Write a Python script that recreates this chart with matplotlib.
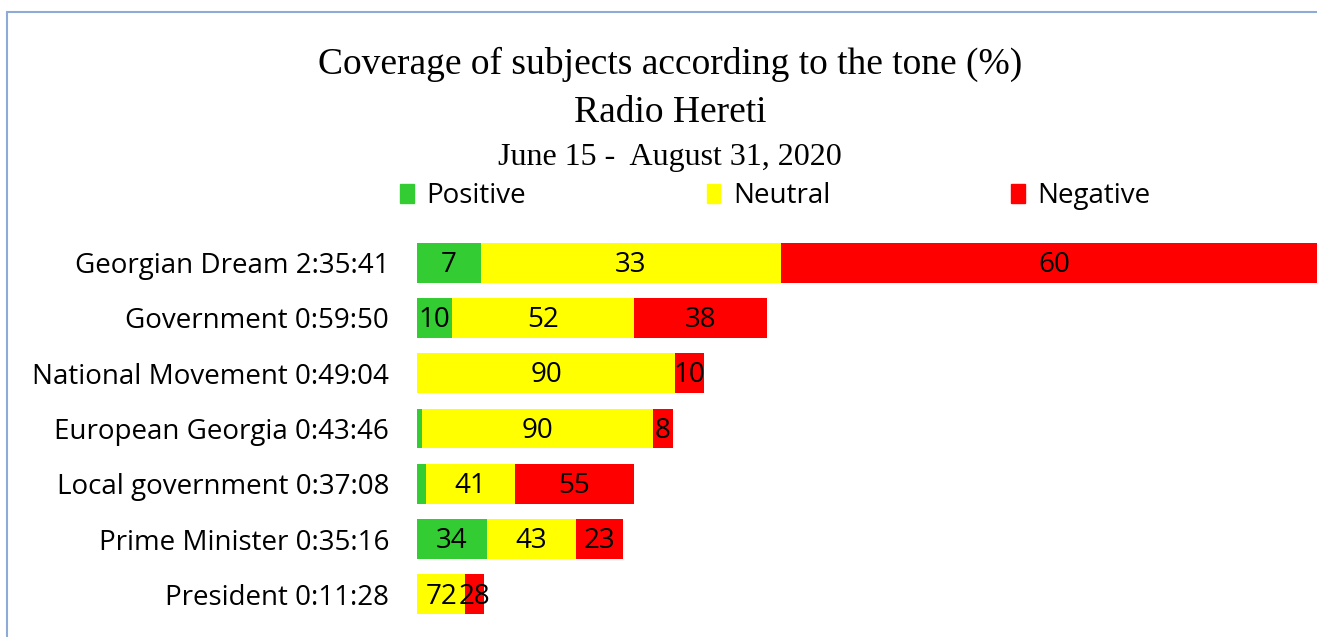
import matplotlib.pyplot as plt
from matplotlib.patches import Patch, Rectangle

subjects = ["Georgian Dream", "Government", "National Movement", "European Georgia",
            "Local government", "Prime Minister", "President"]
durations = ["2:35:41", "0:59:50", "0:49:04", "0:43:46", "0:37:08", "0:35:16", "0:11:28"]
positive = [7, 10, 0, 2, 4, 34, 0]
neutral = [33, 52, 90, 90, 41, 43, 72]
negative = [60, 38, 10, 8, 55, 23, 28]

tones = ["Positive", "Neutral", "Negative"]
colors = ["#33cc33", "#ffff00", "#ff0000"]


def to_sec(s):
    h, m, sec = s.split(":")
    return int(h) * 3600 + int(m) * 60 + int(sec)


secs = [to_sec(d) for d in durations]
labels = [f"{s} {d}" for s, d in zip(subjects, durations)]

fig = plt.figure(figsize=(13.17, 6.37), dpi=100)
ax = fig.add_axes([417 / 1317, 15 / 637, 900 / 1317, 387 / 637])

y = list(range(len(subjects)))
left = [0] * len(subjects)
for vals, col in zip([positive, neutral, negative], colors):
    widths = [v / 100 * t for v, t in zip(vals, secs)]
    ax.barh(y, widths, left=left, height=0.72, color=col)
    for i, (v, w, l) in enumerate(zip(vals, widths, left)):
        if v >= 5:
            ax.text(l + w / 2, i + 0.04, str(v), ha="center", va="center",
                    fontsize=20, family="Open Sans", color="black")
    left = [a + b for a, b in zip(left, widths)]

ax.set_xlim(0, 9231)
ax.set_ylim(len(subjects) - 0.5, -0.5)
ax.set_yticks(y)
ax.set_yticklabels(labels, fontsize=20, family="Open Sans")
ax.tick_params(axis="y", length=0, pad=20)
ax.set_xticks([])
for s in ax.spines.values():
    s.set_visible(False)

tf = "Liberation Serif"
fig.text(0.509, 1 - 64 / 637, "Coverage of subjects according to the tone (%)",
         ha="center", va="center", fontsize=27, family=tf)
fig.text(0.509, 1 - 113 / 637, "Radio Hereti", ha="center", va="center",
         fontsize=27, family=tf)
fig.text(0.509, 1 - 158 / 637, "June 15 -  August 31, 2020", ha="center",
         va="center", fontsize=23, family=tf)

handles = [Patch(color=c, label=t) for c, t in zip(colors, tones)]
fig.legend(handles=handles, loc="center left", bbox_to_anchor=(375 / 1317, 1 - 196 / 637),
           ncol=3, frameon=False, prop={"family": "Open Sans", "size": 20},
           handlelength=0.5, handleheight=0.7, handletextpad=0.45, columnspacing=6.5)

fig.patches.append(Rectangle((7 / 1317, -0.1), 2, 1 - 12 / 637 + 0.1,
                             transform=fig.transFigure, fill=False,
                             edgecolor="#8eaad6", linewidth=1.5))

fig.savefig("out.png", dpi=100)
